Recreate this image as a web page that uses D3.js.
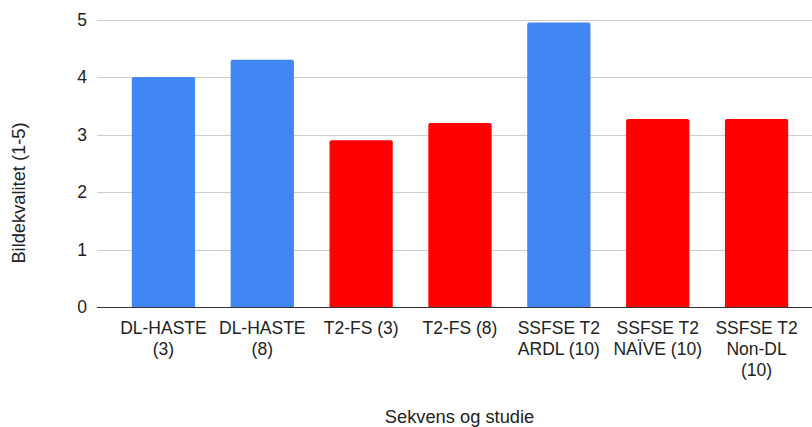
<!DOCTYPE html>
<html>
<head>
<meta charset="utf-8">
<script src="https://cdn.jsdelivr.net/npm/d3@7"></script>
<style>
  html, body { margin: 0; padding: 0; background: #fff; }
  svg { display: block; }
  text { font-family: "Liberation Sans", Arial, sans-serif; fill: #222; }
</style>
</head>
<body>
<svg id="chart" width="812" height="427"></svg>
<script>
// Bildekvalitet per sekvens og studie
const categories = [
  "DL-HASTE (3)",
  "DL-HASTE (8)",
  "T2-FS (3)",
  "T2-FS (8)",
  "SSFSE T2 ARDL (10)",
  "SSFSE T2 NAÏVE (10)",
  "SSFSE T2 Non-DL (10)"
];
const values = [4.0, 4.3, 2.9, 3.2, 4.95, 3.27, 3.27];
const isDeepLearning = [true, true, false, false, true, false, false];
const yTicks = [0, 1, 2, 3, 4, 5];
const xTitle = "Sekvens og studie";
const yTitle = "Bildekvalitet (1-5)";

const colorDL = "#4285f4";
const colorOther = "#ff0000";

const svg = d3.select("#chart");
const gridLeft = 97, gridRight = 812;
const plotTop = 19.5, plotBottom = 307;

const x = d3.scaleBand()
  .domain(categories)
  .range([114, 806])
  .paddingInner(0.36)
  .paddingOuter(0.18);

const y = d3.scaleLinear()
  .domain([0, 5])
  .range([plotBottom, plotTop]);

// gridlines
svg.append("g")
  .selectAll("line")
  .data(yTicks.filter(t => t !== 0))
  .join("line")
  .attr("x1", gridLeft).attr("x2", gridRight)
  .attr("y1", d => Math.round(y(d)) + 0.5)
  .attr("y2", d => Math.round(y(d)) + 0.5)
  .attr("stroke", "#cccccc")
  .attr("stroke-width", 1);

// y tick labels
svg.append("g")
  .selectAll("text")
  .data(yTicks)
  .join("text")
  .attr("x", 87)
  .attr("y", d => y(d) + 6)
  .attr("text-anchor", "end")
  .style("font-size", "17.5px")
  .text(d => d);

// bars with slightly rounded top corners
const r = 2;
function barPath(x0, w, yTop, yBottom) {
  return `M${x0},${yBottom}V${yTop + r}Q${x0},${yTop} ${x0 + r},${yTop}` +
         `H${x0 + w - r}Q${x0 + w},${yTop} ${x0 + w},${yTop + r}V${yBottom}Z`;
}
svg.append("g")
  .selectAll("path")
  .data(categories.map((c, i) => ({ c, v: values[i], dl: isDeepLearning[i] })))
  .join("path")
  .attr("d", d => barPath(x(d.c), x.bandwidth(), y(d.v), y(0)))
  .attr("fill", d => d.dl ? colorDL : colorOther);

// baseline
svg.append("line")
  .attr("x1", gridLeft).attr("x2", gridRight)
  .attr("y1", Math.round(y(0)) + 0.5).attr("y2", Math.round(y(0)) + 0.5)
  .attr("stroke", "#333333")
  .attr("stroke-width", 1);

// x tick labels, wrapped to the band width
const maxW = x.step() - 4;
const xLabels = svg.append("g");
categories.forEach(c => {
  const t = xLabels.append("text")
    .attr("text-anchor", "middle")
    .style("font-size", "17.5px");
  const cx = x(c) + x.bandwidth() / 2;
  const words = c.split(" ");
  const lines = [];
  let cur = "";
  const probe = svg.append("text").style("font-size", "17.5px");
  words.forEach(w => {
    const test = cur ? cur + " " + w : w;
    probe.text(test);
    if (cur && probe.node().getComputedTextLength() > maxW) {
      lines.push(cur);
      cur = w;
    } else {
      cur = test;
    }
  });
  lines.push(cur);
  probe.remove();
  lines.forEach((ln, i) => {
    t.append("tspan")
      .attr("x", cx)
      .attr("y", 334 + i * 21)
      .text(ln);
  });
});

// axis titles
svg.append("text")
  .attr("x", (gridLeft + gridRight) / 2 + 5)
  .attr("y", 423)
  .attr("text-anchor", "middle")
  .style("font-size", "18.3px")
  .text(xTitle);

svg.append("text")
  .attr("transform", "translate(24.5,193) rotate(-90)")
  .attr("text-anchor", "middle")
  .style("font-size", "18.3px")
  .text(yTitle);
</script>
</body>
</html>
